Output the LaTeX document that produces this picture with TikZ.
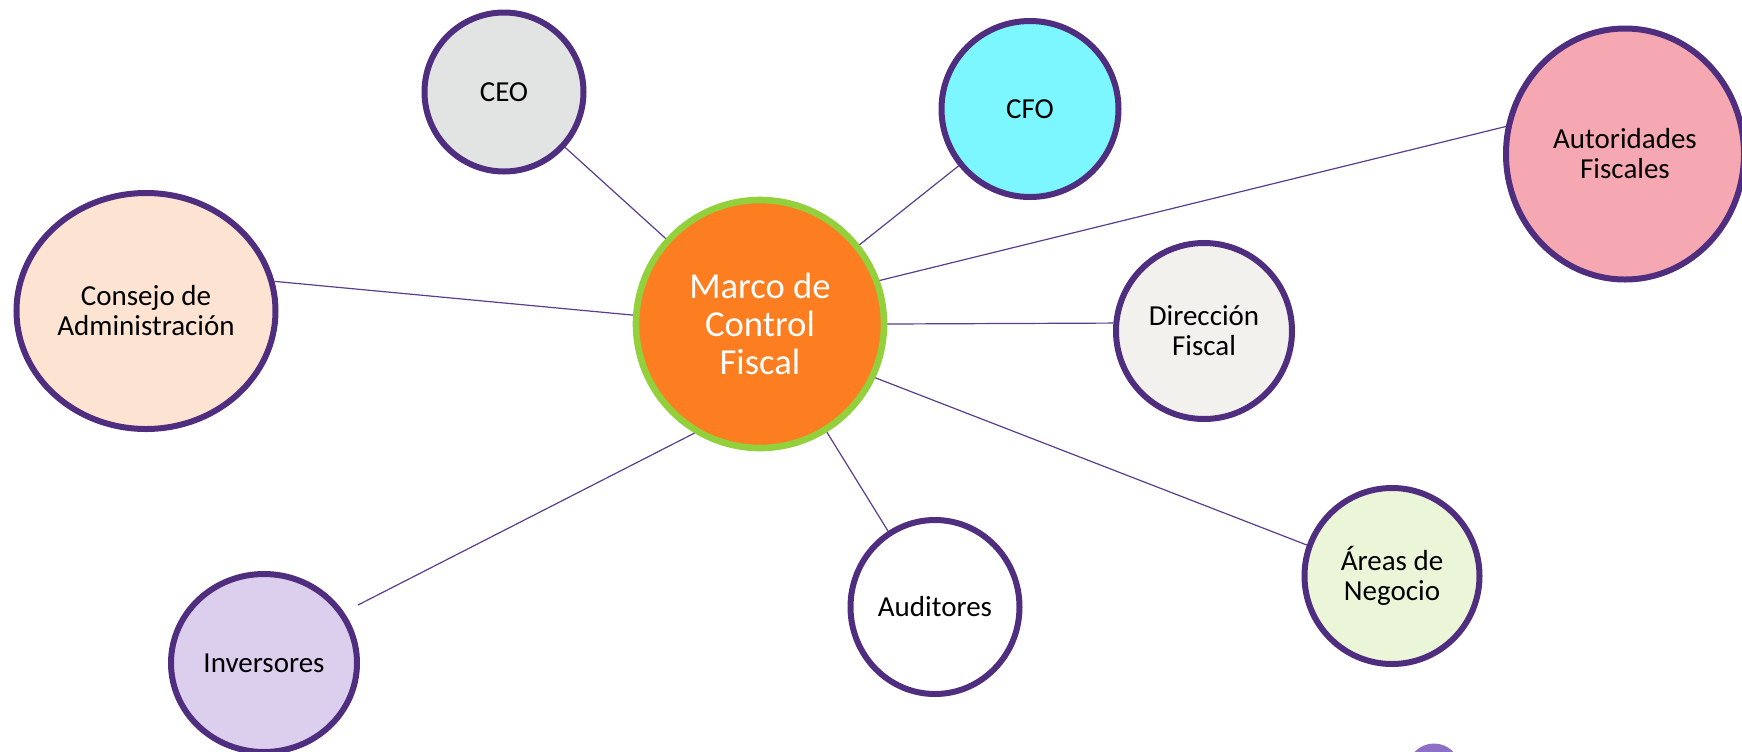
\documentclass[tikz,border=0pt]{standalone}
\usepackage{fontspec}
\setmainfont{Carlito}
\usetikzlibrary{shapes.geometric}

\definecolor{borde}{RGB}{79,45,127}
\definecolor{linea}{RGB}{90,62,140}
\definecolor{verde}{RGB}{146,208,60}
\definecolor{naranja}{RGB}{253,126,32}
\definecolor{gris}{RGB}{226,228,227}
\definecolor{cian}{RGB}{124,246,255}
\definecolor{rosa}{RGB}{245,168,178}
\definecolor{hueso}{RGB}{242,241,238}
\definecolor{verdeclaro}{RGB}{235,245,216}
\definecolor{lila}{RGB}{220,207,238}
\definecolor{durazno}{RGB}{253,228,210}
\definecolor{mancha}{RGB}{140,112,200}

\begin{document}
\begin{tikzpicture}[x=0.5pt,y=-0.5pt,
	bubble/.style={ellipse,draw=borde,line width=3pt,inner sep=0pt,align=center,
		font=\fontsize{14.5}{15}\selectfont},
	link/.style={draw=linea,line width=0.6pt}]
\useasboundingbox (0,0) rectangle (1742,751);

\node[bubble,draw=verde,line width=3.3pt,fill=naranja,text=white,minimum width=124pt,minimum height=124pt,
	font=\fontsize{18.3}{19}\selectfont] (m) at (760,324) {Marco de\\Control\\Fiscal};

\node[bubble,fill=gris,minimum width=79.5pt,minimum height=79.5pt] (ceo) at (504,92) {CEO};
\node[bubble,fill=cian,minimum width=88.5pt,minimum height=88pt] (cfo) at (1030,109) {CFO};
\node[bubble,fill=rosa,minimum width=119pt,minimum height=125.5pt] (aut) at (1625,154) {Autoridades\\Fiscales};
\node[bubble,fill=hueso,minimum width=88pt,minimum height=88pt] (dir) at (1204,331) {Dirección\\Fiscal};
\node[bubble,fill=verdeclaro,minimum width=87.5pt,minimum height=88pt] (are) at (1392,576) {Áreas de\\Negocio};
\node[bubble,fill=white,minimum width=84.5pt,minimum height=87pt] (aud) at (935,607) {Auditores};
\node[bubble,fill=lila,minimum width=93pt,minimum height=89pt] (inv) at (264,663) {Inversores};
\node[bubble,fill=durazno,minimum width=129.5pt,minimum height=118pt] (con) at (146,311) {Consejo de\\Administración};
\coordinate (invtip) at (358,605);

\draw[link] (m) -- (ceo);
\draw[link] (m) -- (cfo);
\draw[link] (m.20) -- (aut.167);
\draw[link] (m.0) -- (dir.175);
\draw[link] (m.-25) -- (are.160);
\draw[link] (m) -- (aud);
\draw[link] (m.-121) -- (invtip);
\draw[link] (m.176) -- (con.13);

\fill[mancha] (1434,770) circle (26.5);
\end{tikzpicture}
\end{document}
